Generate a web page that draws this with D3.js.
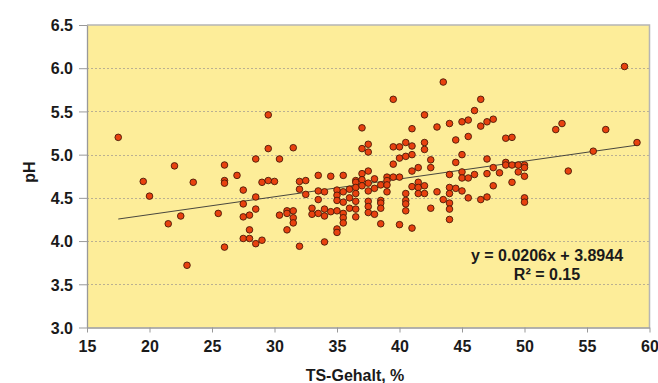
<!DOCTYPE html>
<html>
<head>
<meta charset="utf-8">
<script src="https://cdn.jsdelivr.net/npm/d3@7"></script>
<style>
  html, body { margin: 0; padding: 0; background: #fff; }
  svg { display: block; }
  text { font-family: "Liberation Sans", Arial, sans-serif; font-weight: bold; fill: #1a1a1a; }
</style>
</head>
<body>
<div id="chart"></div>
<script>
// ---- data ----
const xGroups = [17.5, 19.5, 20.0, 21.5, 22.0, 22.5, 23.0, 23.5, 25.5, 26.0,
  27.0, 27.5, 28.0, 28.5, 29.0, 29.5, 30.0, 30.4, 31.0, 31.5,
  32.0, 32.5, 33.0, 33.5, 34.0, 34.5, 35.0, 35.5, 36.0, 36.5,
  37.0, 37.5, 38.0, 38.5, 39.0, 39.5, 40.0, 40.5, 41.0, 41.5,
  42.0, 42.5, 43.0, 43.5, 44.0, 44.5, 45.0, 45.5, 46.0, 46.5,
  47.0, 47.5, 48.0, 48.5, 49.0, 49.5, 50.0, 52.5, 53.0, 53.5,
  55.5, 56.5, 58.0, 59.0];
const phGroups = [
  [5.20], [4.69], [4.52], [4.20], [4.87], [4.29], [3.72], [4.68], [4.32], [4.88, 4.70, 4.67, 3.93],
  [4.76], [4.59, 4.43, 4.28, 4.03], [4.30, 4.13, 4.03], [4.95, 4.51, 4.37, 3.97], [4.68, 4.01], [5.46, 5.07, 4.70], [4.69], [4.95, 4.30], [4.35, 4.32, 4.13], [5.08, 4.35, 4.27, 4.21],
  [4.69, 4.60, 3.94], [4.70, 4.54], [4.38, 4.31], [4.76, 4.58, 4.48, 4.32], [4.57, 4.37, 4.29, 3.99], [4.75, 4.34], [4.59, 4.53, 4.47, 4.35, 4.14, 4.10], [4.76, 4.57, 4.45, 4.32, 4.27, 4.21], [4.60, 4.50, 4.38], [4.70, 4.68, 4.62, 4.55, 4.46, 4.37, 4.28],
  [5.31, 5.07, 4.78, 4.71, 4.64], [5.12, 5.03, 4.81, 4.67, 4.58, 4.46, 4.40, 4.33], [4.72, 4.61, 4.31], [4.65, 4.47, 4.44, 4.38, 4.20], [4.74, 4.70, 4.65, 4.57], [5.64, 5.09, 4.89, 4.74], [5.09, 4.96, 4.74, 4.19], [5.14, 4.98, 4.55, 4.47, 4.43, 4.35], [5.30, 5.10, 5.00, 4.81, 4.63, 4.15], [4.85, 4.68, 4.62, 4.55],
  [5.46, 5.14, 5.06, 4.64, 4.55], [4.94, 4.85, 4.38], [5.32, 4.57], [5.84, 4.48], [5.36, 4.77, 4.62, 4.55, 4.44, 4.37, 4.25], [5.17, 4.91, 4.61], [5.38, 5.00, 4.80, 4.73, 4.58], [5.40, 5.21, 4.73, 4.50], [5.51, 4.77], [5.64, 5.33, 4.48],
  [5.38, 4.95, 4.78, 4.51], [5.41, 4.85, 4.64], [4.79], [5.19, 4.91, 4.88], [5.20, 4.88, 4.68], [4.88, 4.80], [4.88, 4.85, 4.75, 4.50, 4.45], [5.29], [5.36], [4.81],
  [5.04], [5.29], [6.02], [5.14]
];
const xTicks = [15, 20, 25, 30, 35, 40, 45, 50, 55, 60];
const yTicks = [3.0, 3.5, 4.0, 4.5, 5.0, 5.5, 6.0, 6.5];
const trendSlope = 0.0206;
const trendIntercept = 3.8944;
const trendRange = [17.5, 59];
const equationText = "y = 0.0206x + 3.8944";
const r2Text = "R\u00B2 = 0.15";
const xTitle = "TS-Gehalt, %";
const yTitle = "pH";

const points = [];
xGroups.forEach((x, i) => phGroups[i].forEach(y => points.push({x, y})));

// ---- layout ----
const W = 658, H = 383;
const m = {left: 87, right: 8.5, top: 25, bottom: 55.5};

const svg = d3.select("#chart").append("svg").attr("width", W).attr("height", H);

const x = d3.scaleLinear().domain([15, 60]).range([m.left, W - m.right]);
const y = d3.scaleLinear().domain([3.0, 6.5]).range([H - m.bottom, m.top]);

// plot background
svg.append("rect")
  .attr("x", x(15)).attr("y", y(6.5))
  .attr("width", x(60) - x(15)).attr("height", y(3.0) - y(6.5))
  .attr("fill", "#FDED99");

// grid lines
svg.append("g").selectAll("line")
  .data(yTicks.filter(t => t > 3.0 && t < 6.5))
  .join("line")
  .attr("x1", x(15)).attr("x2", x(60))
  .attr("y1", d => Math.round(y(d)) + 0.5).attr("y2", d => Math.round(y(d)) + 0.5)
  .attr("stroke", "#a8a090").attr("stroke-width", 0.8)
  .attr("stroke-dasharray", "2,2");

// top and right border
svg.append("path")
  .attr("d", `M${x(15)},${y(6.5)}H${x(60)}V${y(3.0)}`)
  .attr("fill", "none").attr("stroke", "#b5b5b5").attr("stroke-width", 1.5);

// axes
const xAxis = svg.append("g")
  .attr("transform", `translate(0,${y(3.0)})`)
  .call(d3.axisBottom(x).tickValues(xTicks).tickSize(5).tickSizeOuter(0).tickPadding(8).tickFormat(d3.format("d")));
const yAxis = svg.append("g")
  .attr("transform", `translate(${x(15)},0)`)
  .call(d3.axisLeft(y).tickValues(yTicks).tickSize(8).tickSizeOuter(0).tickPadding(6).tickFormat(d3.format(".1f")));

[xAxis, yAxis].forEach(g => {
  g.select(".domain").attr("stroke", "#999").attr("stroke-width", 1.3);
  g.selectAll(".tick line").attr("stroke", "#999");
  g.selectAll(".tick text")
    .attr("font-family", '"Liberation Sans", Arial, sans-serif')
    .attr("font-weight", "bold").attr("font-size", 16).attr("fill", "#1a1a1a");
});
yAxis.selectAll(".tick text").attr("dy", "0.36em");

// trend line
svg.append("line")
  .attr("x1", x(trendRange[0])).attr("y1", y(trendSlope * trendRange[0] + trendIntercept))
  .attr("x2", x(trendRange[1])).attr("y2", y(trendSlope * trendRange[1] + trendIntercept))
  .attr("stroke", "#333").attr("stroke-width", 0.9);

// points
svg.append("g").selectAll("circle")
  .data(points)
  .join("circle")
  .attr("cx", d => x(d.x)).attr("cy", d => y(d.y))
  .attr("r", 3.3)
  .attr("fill", "#E8410F")
  .attr("stroke", "#4a1a08").attr("stroke-width", 0.9);

// equation
svg.append("text")
  .attr("x", 547).attr("y", 261)
  .attr("text-anchor", "middle").attr("font-size", 16)
  .text(equationText);
svg.append("text")
  .attr("x", 547).attr("y", 280)
  .attr("text-anchor", "middle").attr("font-size", 16)
  .text(r2Text);

// axis titles
svg.append("text")
  .attr("x", 355).attr("y", 381)
  .attr("text-anchor", "middle").attr("font-size", 16)
  .text(xTitle);
svg.append("text")
  .attr("transform", "translate(35,172) rotate(-90)")
  .attr("text-anchor", "middle").attr("font-size", 16)
  .text(yTitle);
</script>
</body>
</html>
